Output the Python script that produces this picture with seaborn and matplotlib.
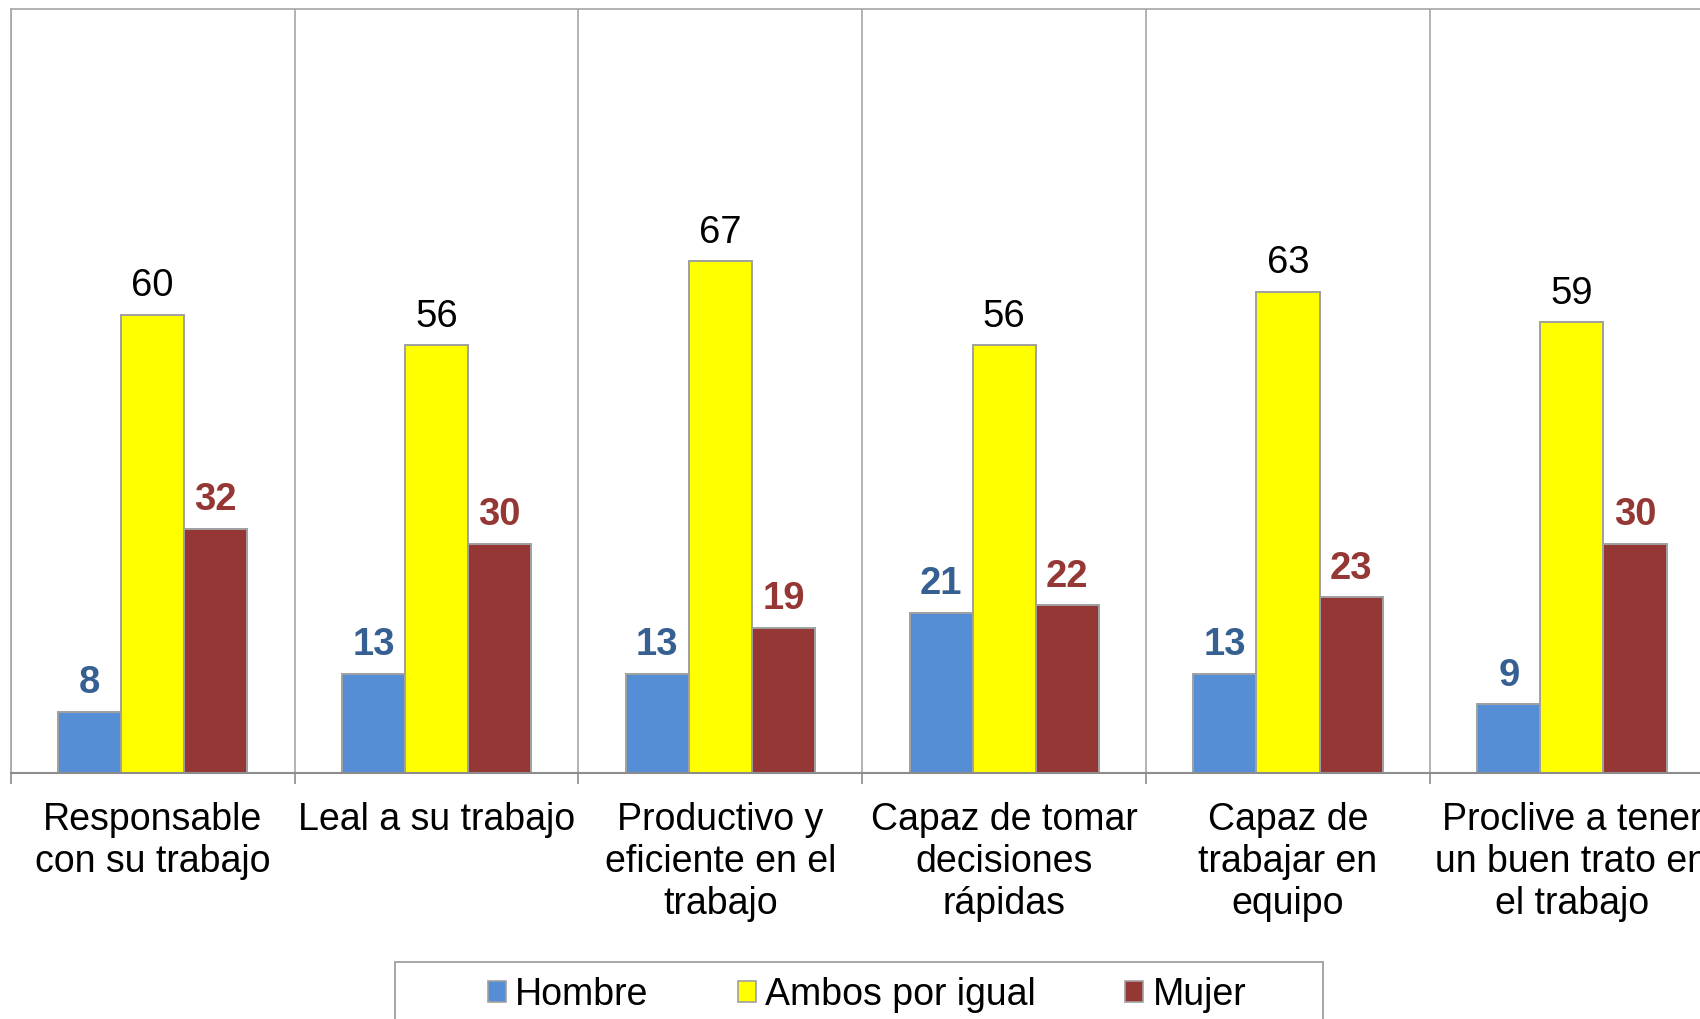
import matplotlib
matplotlib.use('Agg')
from matplotlib import pyplot as plt
from matplotlib.patches import Rectangle, Patch
import seaborn as sns
import pandas as pd

categories = [
    "Responsable\ncon su trabajo",
    "Leal a su trabajo",
    "Productivo y\neficiente en el\ntrabajo",
    "Capaz de tomar\ndecisiones\nrápidas",
    "Capaz de\ntrabajar en\nequipo",
    "Proclive a tener\nun buen trato en\nel trabajo",
]
series = ["Hombre", "Ambos por igual", "Mujer"]
hombre = [8, 13, 13, 21, 13, 9]
ambos = [60, 56, 67, 56, 63, 59]
mujer = [32, 30, 19, 22, 23, 30]

bar_colors = ["#558ED5", "#FFFF00", "#953735"]
label_colors = ["#376092", "#000000", "#953735"]
label_weights = ["bold", "normal", "bold"]

df = pd.DataFrame({
    "cat": categories * 3,
    "serie": [s for s in series for _ in categories],
    "valor": hombre + ambos + mujer,
})

sns.set_theme(style="white")
plt.rcParams['font.family'] = ['Liberation Sans', 'DejaVu Sans']
plt.rcParams['text.color'] = 'black'
plt.rcParams['xtick.labelcolor'] = 'black'

fig = plt.figure(figsize=(17, 10.19), dpi=100)
ax = fig.add_axes([10.8 / 1700, 1 - 773 / 1019, 1703 / 1700, (773 - 9) / 1019])

sns.barplot(data=df, x="cat", y="valor", hue="serie", order=categories,
            hue_order=series, palette=bar_colors, width=0.667, gap=0,
            edgecolor="#A0A0A0", linewidth=1.4, saturation=1, ax=ax)
ax.get_legend().remove()

for cont, col, w in zip(ax.containers, label_colors, label_weights):
    ax.bar_label(cont, fmt="%d", padding=7.5, color=col, fontweight=w, fontsize=27.5)

ax.set_ylim(0, 100)
ax.set_xlim(-0.5, len(categories) - 0.5)
ax.set_yticks([])
ax.set_xlabel("")
ax.set_ylabel("")

ax.set_xticks(range(len(categories)))
ax.set_xticklabels(categories, fontsize=27, linespacing=1.22, color="black")
ax.set_xticks([i - 0.5 for i in range(len(categories) + 1)], minor=True)
ax.tick_params(axis="x", which="major", length=0, pad=21)
ax.tick_params(axis="x", which="minor", length=8, width=1.2, color="#8C8C8C",
               bottom=True)
ax.grid(True, axis="x", which="minor", color="#A6A6A6", linewidth=1.2)
ax.grid(False, axis="x", which="major")
ax.grid(False, axis="y")
ax.set_axisbelow(True)

for side in ["left", "top", "right"]:
    ax.spines[side].set_color("#A6A6A6")
    ax.spines[side].set_linewidth(1.2)
ax.spines["bottom"].set_color("#8C8C8C")
ax.spines["bottom"].set_linewidth(1.5)

handles = [Patch(facecolor=c, edgecolor="#A0A0A0", linewidth=1.2) for c in bar_colors]
fig.legend(handles, series, loc="center", bbox_to_anchor=(0.51, 1 - 995 / 1019),
           ncol=3, frameon=False, fontsize=27, handlelength=0.48, handleheight=0.48,
           handletextpad=0.25, columnspacing=2.38, borderpad=0, labelcolor="black")
fig.add_artist(Rectangle((395 / 1700, -0.05), (1323 - 395) / 1700, 0.05 + 1 - 962 / 1019,
                         transform=fig.transFigure, facecolor="none",
                         edgecolor="#A6A6A6", linewidth=1.4))

fig.savefig("out.png", dpi=100)
